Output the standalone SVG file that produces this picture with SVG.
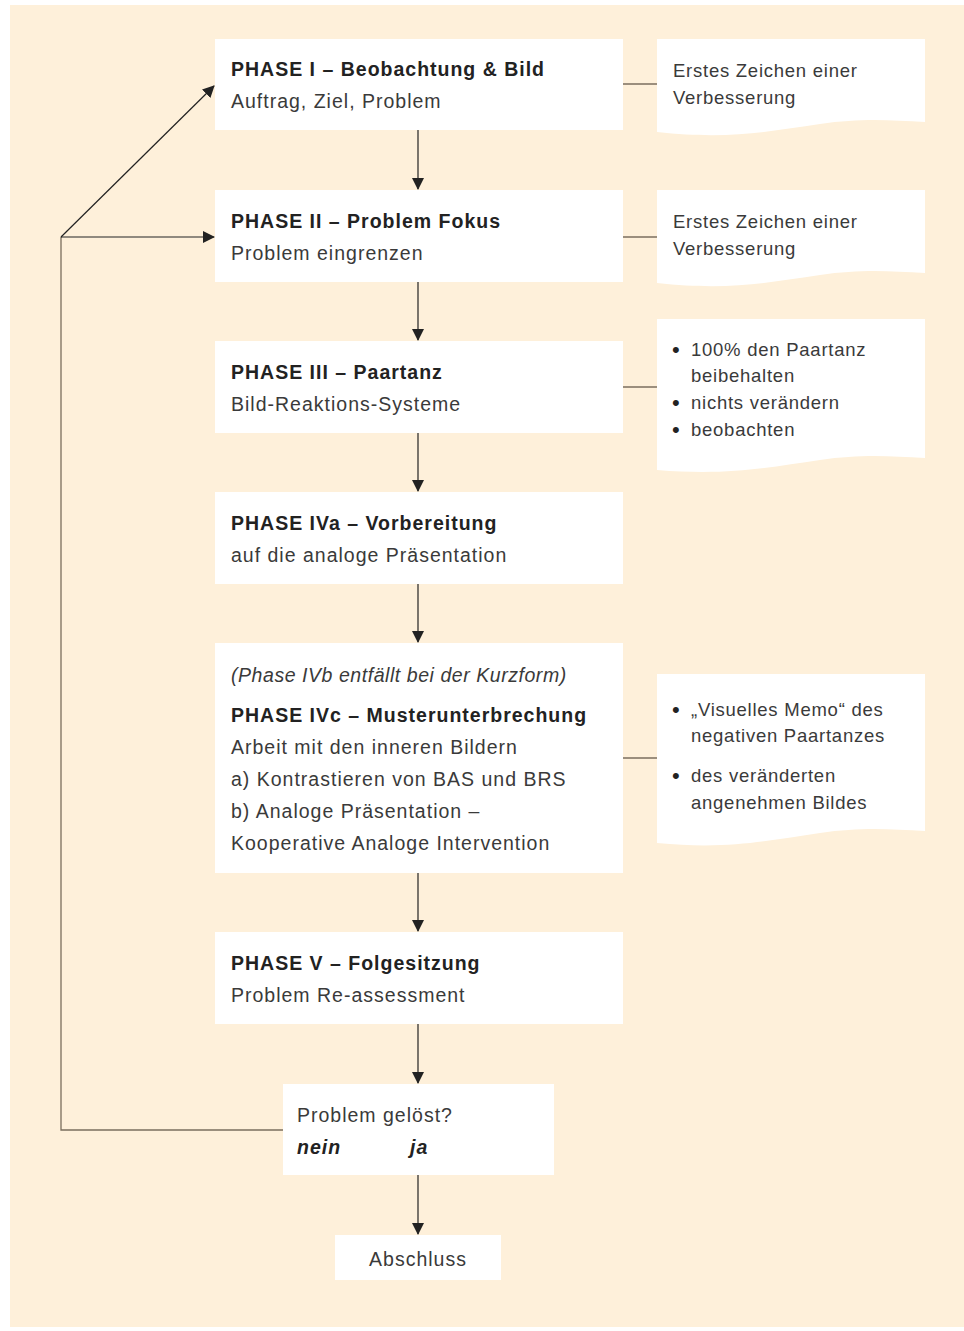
<svg xmlns="http://www.w3.org/2000/svg" width="964" height="1331" viewBox="0 0 964 1331">
<style>
.box{fill:#fff}
.t{font-family:"Liberation Sans",Arial,sans-serif;font-size:19.5px;fill:#3a3a3a;letter-spacing:1px}
.b{font-weight:bold;fill:#222;font-size:19.5px}
.i{font-style:italic;letter-spacing:0.55px}
.n{font-family:"Liberation Sans",Arial,sans-serif;font-size:18.5px;fill:#3a3a3a;letter-spacing:0.75px}
.d{font-family:"Liberation Sans",Arial,sans-serif;font-size:22px;fill:#222}
.c{stroke:#222;stroke-width:1.2;fill:none}
.g{stroke:#7a6e5e;stroke-width:1.3;fill:none}
</style>
<defs>
<marker id="ah" markerWidth="12" markerHeight="18" refX="11" refY="6" orient="auto" markerUnits="userSpaceOnUse">
<path d="M0,0 L12,6 L0,12 z" fill="#222"/>
</marker>
</defs>
<rect x="0" y="0" width="964" height="1331" fill="#fff"/>
<rect x="10" y="5" width="954" height="1322" fill="#fef0da"/>

<g id="connectors">
<line class="c" x1="418" y1="130" x2="418" y2="189" marker-end="url(#ah)"/>
<line class="c" x1="418" y1="282" x2="418" y2="340" marker-end="url(#ah)"/>
<line class="c" x1="418" y1="433" x2="418" y2="491" marker-end="url(#ah)"/>
<line class="c" x1="418" y1="584" x2="418" y2="642" marker-end="url(#ah)"/>
<line class="c" x1="418" y1="873" x2="418" y2="931" marker-end="url(#ah)"/>
<line class="c" x1="418" y1="1024" x2="418" y2="1083" marker-end="url(#ah)"/>
<line class="c" x1="418" y1="1175" x2="418" y2="1234" marker-end="url(#ah)"/>
<polyline class="g" points="283,1130 61,1130 61,237"/>
<line class="c" x1="61" y1="237" x2="214" y2="237" marker-end="url(#ah)"/>
<line class="c" x1="61" y1="237" x2="214" y2="86" marker-end="url(#ah)"/>
<line class="g" x1="623" y1="84" x2="657" y2="84"/>
<line class="g" x1="623" y1="237" x2="657" y2="237"/>
<line class="g" x1="623" y1="387" x2="657" y2="387"/>
<line class="g" x1="623" y1="758" x2="657" y2="758"/>
</g>

<g id="phase1">
<rect class="box" x="215" y="39" width="408" height="91"/>
<text class="t b" x="231" y="76">PHASE I – Beobachtung &amp; Bild</text>
<text class="t" x="231" y="108">Auftrag, Ziel, Problem</text>
</g>
<g id="phase2">
<rect class="box" x="215" y="190" width="408" height="92"/>
<text class="t b" x="231" y="228">PHASE II – Problem Fokus</text>
<text class="t" x="231" y="260">Problem eingrenzen</text>
</g>
<g id="phase3">
<rect class="box" x="215" y="341" width="408" height="92"/>
<text class="t b" x="231" y="379">PHASE III – Paartanz</text>
<text class="t" x="231" y="411">Bild-Reaktions-Systeme</text>
</g>
<g id="phase4a">
<rect class="box" x="215" y="492" width="408" height="92"/>
<text class="t b" x="231" y="530">PHASE IVa – Vorbereitung</text>
<text class="t" x="231" y="562">auf die analoge Präsentation</text>
</g>
<g id="phase4c">
<rect class="box" x="215" y="643" width="408" height="230"/>
<text class="t i" x="231" y="682">(Phase IVb entfällt bei der Kurzform)</text>
<text class="t b" x="231" y="722">PHASE IVc – Musterunterbrechung</text>
<text class="t" x="231" y="754">Arbeit mit den inneren Bildern</text>
<text class="t" x="231" y="786">a) Kontrastieren von BAS und BRS</text>
<text class="t" x="231" y="818">b) Analoge Präsentation –</text>
<text class="t" x="231" y="850">Kooperative Analoge Intervention</text>
</g>
<g id="phase5">
<rect class="box" x="215" y="932" width="408" height="92"/>
<text class="t b" x="231" y="970">PHASE V – Folgesitzung</text>
<text class="t" x="231" y="1002">Problem Re-assessment</text>
</g>
<g id="decision">
<rect class="box" x="283" y="1084" width="271" height="91"/>
<text class="t" x="297" y="1122">Problem gelöst?</text>
<text class="t b" x="297" y="1154" font-style="italic">nein</text>
<text class="t b" x="410" y="1154" font-style="italic">ja</text>
</g>
<g id="end">
<rect class="box" x="335" y="1235" width="166" height="45"/>
<text class="t" x="418" y="1266" text-anchor="middle">Abschluss</text>
</g>

<g id="note1">
<path class="box" d="M657,39 H925 V122 C890,120 860,118 820,124 C770,131 730,140 657,132 Z"/>
<text class="n" x="673" y="77">Erstes Zeichen einer</text>
<text class="n" x="673" y="104">Verbesserung</text>
</g>
<g id="note2">
<path class="box" d="M657,190 H925 V273 C890,271 860,269 820,275 C770,282 730,291 657,283 Z"/>
<text class="n" x="673" y="228">Erstes Zeichen einer</text>
<text class="n" x="673" y="255">Verbesserung</text>
</g>
<g id="note3">
<path class="box" d="M657,319 H925 V458 C890,456 860,454 820,460 C770,467 730,476 657,470 Z"/>
<text class="d" x="672" y="357">•</text>
<text class="n" x="691" y="356">100% den Paartanz</text>
<text class="n" x="691" y="382">beibehalten</text>
<text class="d" x="672" y="410">•</text>
<text class="n" x="691" y="409">nichts verändern</text>
<text class="d" x="672" y="437">•</text>
<text class="n" x="691" y="436">beobachten</text>
</g>
<g id="note4">
<path class="box" d="M657,674 H925 V831 C890,829 860,827 820,833 C770,840 730,850 657,843 Z"/>
<text class="d" x="672" y="717">•</text>
<text class="n" x="691" y="716">„Visuelles Memo“ des</text>
<text class="n" x="691" y="742">negativen Paartanzes</text>
<text class="d" x="672" y="783">•</text>
<text class="n" x="691" y="782">des veränderten</text>
<text class="n" x="691" y="809">angenehmen Bildes</text>
</g>
</svg>
